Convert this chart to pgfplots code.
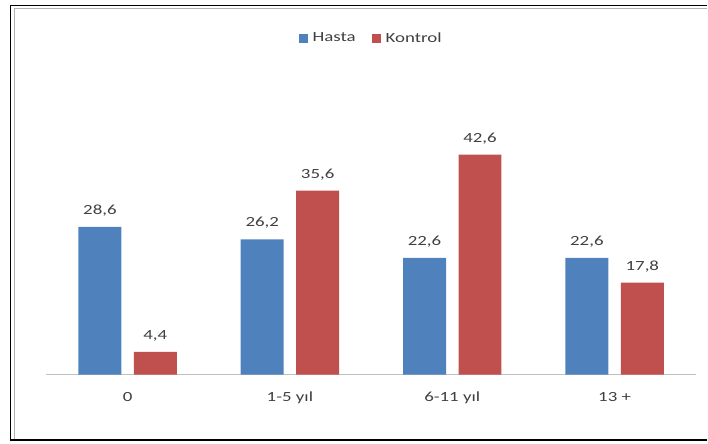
\documentclass[border=0pt]{standalone}
\usepackage{pgfplots}
\pgfplotsset{compat=1.18}
\usepackage{fontspec}
\setmainfont[FakeStretch=1.35]{Carlito}
\definecolor{hblue}{HTML}{4F81BD}
\definecolor{kred}{HTML}{C0504D}
\definecolor{txt}{HTML}{404040}
\begin{document}
\begin{tikzpicture}
\begin{axis}[
  scale only axis,
  width=650bp, height=258.5bp,
  xmin=-0.5, xmax=3.5, ymin=0, ymax=50,
  ybar=0pt, bar width=43bp,
  axis y line=none,
  axis x line*=bottom,
  x axis line style={draw=black!25, line width=1.5bp, -},
  xtick={0,1,2,3},
  xticklabels={0,1-5 yıl,6-11 yıl,13 +},
  major tick length=0pt,
  x tick label style={font=\fontsize{14bp}{16bp}\selectfont, text=txt, yshift=-14bp},
  nodes near coords,
  every node near coord/.append style={font=\fontsize{14bp}{16bp}\selectfont, text=txt, yshift=7bp},
  /pgf/number format/.cd, use comma, fixed, fixed zerofill, precision=1, assume math mode=true,
  /pgfplots/.cd,
  legend style={draw=none, at={(rel axis cs:0.5,1.303)}, anchor=center,
    font=\fontsize{14bp}{16bp}\selectfont, text=txt, legend columns=2,
    /tikz/every odd column/.append style={column sep=3bp},
    /tikz/every even column/.append style={column sep=14bp}},
  legend image code/.code={\fill[#1] (0bp,-4.5bp) rectangle (9bp,4.5bp);},
  clip=false,
]
\addplot[bar shift=-27.75bp, fill=hblue, draw=none]
  coordinates {(0,28.6) (1,26.2) (2,22.6) (3,22.6)};
\addlegendentry{Hasta}
\addplot[bar shift=27.75bp, fill=kred, draw=none]
  coordinates {(0,4.4) (1,35.6) (2,42.6) (3,17.8)};
\addlegendentry{Kontrol}
\end{axis}
\draw[black!30, line width=1.2bp] (-32bp,-65.5bp) -- (-32bp,366.5bp) -- (661.5bp,366.5bp);
\draw[black, line width=1.5bp] (661.5bp,-65.5bp) -- (-36bp,-65.5bp) -- (-36bp,369.5bp) -- (661.5bp,369.5bp);
\path[use as bounding box] (-46.5bp,-69bp) rectangle (661.5bp,375bp);
\end{tikzpicture}
\end{document}
